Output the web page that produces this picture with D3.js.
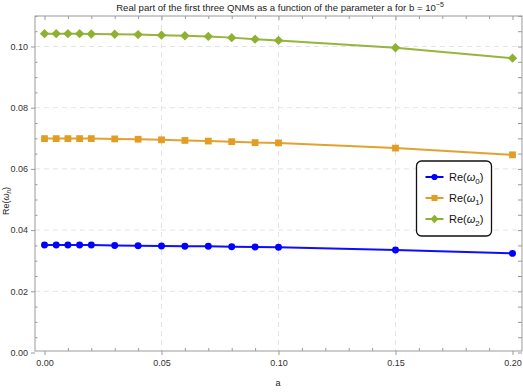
<!DOCTYPE html>
<html><head><meta charset="utf-8">
<script src="https://cdn.jsdelivr.net/npm/d3@7"></script>
<style>
body{margin:0;background:#fff;}
svg{display:block;font-family:"Liberation Sans",Arial,sans-serif;}
</style></head>
<body><svg id="c" width="523" height="392"></svg>
<script>
const aValues = [0, 0.005, 0.01, 0.015, 0.02, 0.03, 0.04, 0.05, 0.06, 0.07, 0.08, 0.09, 0.10, 0.15, 0.20];
const re0 = [0.0351, 0.0351, 0.0351, 0.0351, 0.0351, 0.0350, 0.0349, 0.0348, 0.0347, 0.0347, 0.03455, 0.03445, 0.0344, 0.0335, 0.0324];
const re1 = [0.0699, 0.0699, 0.0699, 0.0699, 0.0699, 0.0698, 0.0697, 0.0695, 0.0693, 0.0691, 0.0689, 0.0686, 0.0685, 0.0668, 0.0646];
const re2 = [0.1042, 0.1042, 0.1042, 0.1042, 0.1041, 0.1040, 0.1039, 0.1037, 0.1035, 0.1033, 0.1029, 0.1024, 0.1020, 0.0996, 0.0962];
const xTicks = [0, 0.05, 0.10, 0.15, 0.20];
const yTicks = [0, 0.02, 0.04, 0.06, 0.08, 0.10];
const seriesNames = ["0", "1", "2"];
const colors = ["#0000ff", "#e19d24", "#8fb131"];

// rotated-square diamond
const squareDiamond = {
  draw(ctx, size) {
    const r = Math.sqrt(size / 2);
    ctx.moveTo(0, -r); ctx.lineTo(r, 0); ctx.lineTo(0, r); ctx.lineTo(-r, 0); ctx.closePath();
  }
};
const shapes = [d3.symbolCircle, d3.symbolSquare, squareDiamond];
const symSizes = [38, 46, 44];

const svg = d3.select("#c");
const L = 35, R = 522, T = 16, B = 351;
const x = d3.scaleLinear().domain([0, 0.2]).range([44.5, 512.5]);
const y = d3.scaleLinear().domain([0, 0.10]).range([352.5, 46.5]);

// grid
const g = svg.append("g");
const gc = "#e4e4e4";
g.selectAll(".gx").data(xTicks.slice(1, -1)).enter().append("line")
  .attr("x1", d => x(d)).attr("x2", d => x(d)).attr("y1", T).attr("y2", B)
  .attr("stroke", gc).attr("stroke-dasharray", "5,4").attr("stroke-width", 1);
g.selectAll(".gy").data(yTicks.slice(1)).enter().append("line")
  .attr("x1", L).attr("x2", R).attr("y1", d => y(d)).attr("y2", d => y(d))
  .attr("stroke", gc).attr("stroke-dasharray", "5,4").attr("stroke-width", 1);

// frame
const fc = "#9a9a9a";
svg.append("rect").attr("x", L).attr("y", T).attr("width", R - L).attr("height", B - T)
  .attr("fill", "none").attr("stroke", fc).attr("stroke-width", 1);

const xMinor = d3.range(0, 0.2001, 0.01).map(v => +v.toFixed(3)).filter(v => !xTicks.some(t => Math.abs(t - v) < 1e-9));
const yMinor = d3.range(0, 0.1101, 0.005).map(v => +v.toFixed(4)).filter(v => !yTicks.some(t => Math.abs(t - v) < 1e-9));

// bottom axis
svg.append("g").attr("transform", `translate(0,${B})`)
  .call(d3.axisBottom(x).tickValues(xTicks).tickFormat(d3.format(".2f")).tickSize(4).tickPadding(5));
svg.append("g").attr("transform", `translate(0,${B})`)
  .call(d3.axisTop(x).tickValues(xMinor).tickFormat("").tickSize(3));
// top ticks
svg.append("g").attr("transform", `translate(0,${T})`)
  .call(d3.axisBottom(x).tickValues(xTicks).tickFormat("").tickSize(4));
svg.append("g").attr("transform", `translate(0,${T})`)
  .call(d3.axisBottom(x).tickValues(xMinor).tickFormat("").tickSize(3));
// left axis
svg.append("g").attr("transform", `translate(${L},0)`)
  .call(d3.axisLeft(y).tickValues(yTicks).tickFormat(d3.format(".2f")).tickSize(4).tickPadding(3));
svg.append("g").attr("transform", `translate(${L},0)`)
  .call(d3.axisRight(y).tickValues(yMinor).tickFormat("").tickSize(2.5));
// right ticks
svg.append("g").attr("transform", `translate(${R},0)`)
  .call(d3.axisLeft(y).tickValues(yTicks.concat(yMinor)).tickFormat("").tickSize(4));

svg.selectAll(".domain").remove();
svg.selectAll(".tick line").attr("stroke", fc);
svg.selectAll(".tick text").attr("fill", "#333").style("font-size", "9px").style("font-family", '"Liberation Sans",Arial,sans-serif');

// series
const all = [re0, re1, re2];
const line = d3.line().x((d, i) => x(aValues[i])).y(d => y(d));
all.forEach((vals, k) => {
  svg.append("path").datum(vals).attr("d", line).attr("fill", "none")
    .attr("stroke", colors[k]).attr("stroke-width", 2).attr("opacity", 0.95);
  svg.selectAll(".m" + k).data(vals).enter().append("path")
    .attr("transform", (d, i) => `translate(${x(aValues[i])},${y(d)})`)
    .attr("d", d3.symbol().type(shapes[k]).size(symSizes[k]))
    .attr("fill", colors[k]);
});

// title
const title = svg.append("text").attr("x", 280).attr("y", 11).attr("text-anchor", "middle")
  .style("font-size", "9.6px").attr("fill", "#222");
title.append("tspan").text("Real part of the first three QNMs as a function of the parameter a for b = 10");
title.append("tspan").attr("dy", -4).style("font-size", "7px").text("−5");

// axis labels
svg.append("text").attr("x", 278).attr("y", 386).attr("text-anchor", "middle")
  .style("font-size", "9px").attr("fill", "#222").text("a");
const yl = svg.append("text").attr("transform", "translate(9,201) rotate(-90)")
  .attr("text-anchor", "middle").style("font-size", "9px").attr("fill", "#222");
yl.append("tspan").text("Re(");
yl.append("tspan").style("font-style", "italic").text("ω");
yl.append("tspan").attr("dy", 2).style("font-size", "6.5px").style("font-style", "italic").text("n");
yl.append("tspan").attr("dy", -2).text(")");

// legend
const lg = svg.append("g");
lg.append("rect").attr("x", 416.5).attr("y", 161).attr("width", 75).attr("height", 75)
  .attr("rx", 5).attr("fill", "#fff").attr("stroke", "#111").attr("stroke-width", 1.3);
seriesNames.forEach((n, k) => {
  const yy = 177 + k * 21;
  lg.append("line").attr("x1", 425.5).attr("x2", 443.5).attr("y1", yy).attr("y2", yy)
    .attr("stroke", colors[k]).attr("stroke-width", 2);
  lg.append("path").attr("transform", `translate(434.5,${yy})`)
    .attr("d", d3.symbol().type(shapes[k]).size(symSizes[k] * 0.8)).attr("fill", colors[k]);
  const t = lg.append("text").attr("x", 449).attr("y", yy + 4).style("font-size", "11px").attr("fill", "#111");
  t.append("tspan").text("Re(");
  t.append("tspan").style("font-style", "italic").text("ω");
  t.append("tspan").attr("dy", 3).style("font-size", "8px").text(n);
  t.append("tspan").attr("dy", -3).text(")");
});
</script></body></html>
